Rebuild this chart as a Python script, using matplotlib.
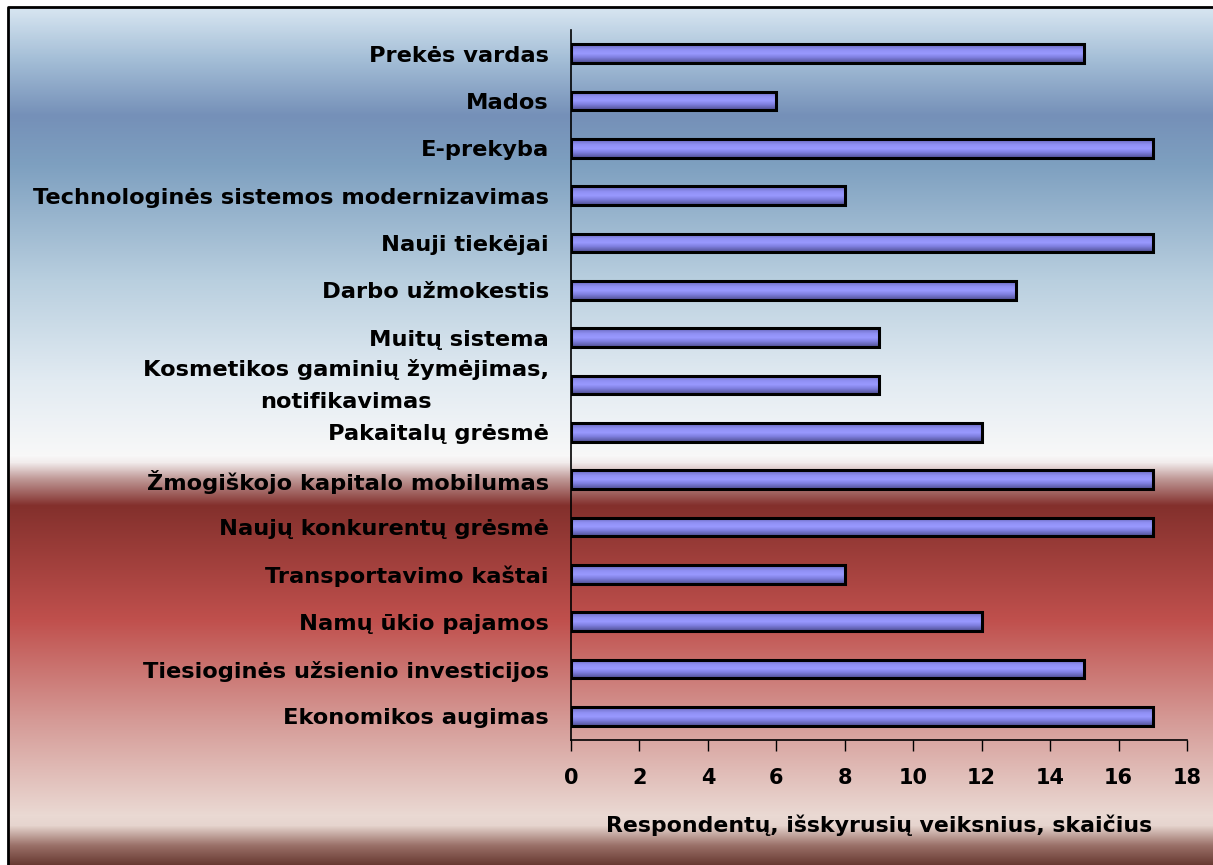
import numpy as np
import matplotlib
matplotlib.use("Agg")
import matplotlib.pyplot as plt
from matplotlib.colors import LinearSegmentedColormap, to_rgb
from matplotlib.patches import Rectangle

# data, top to bottom as shown
labels = [
    "Prekės vardas",
    "Mados",
    "E-prekyba",
    "Technologinės sistemos modernizavimas",
    "Nauji tiekėjai",
    "Darbo užmokestis",
    "Muitų sistema",
    "Kosmetikos gaminių žymėjimas,\nnotifikavimas",
    "Pakaitalų grėsmė",
    "Žmogiškojo kapitalo mobilumas",
    "Naujų konkurentų grėsmė",
    "Transportavimo kaštai",
    "Namų ūkio pajamos",
    "Tiesioginės užsienio investicijos",
    "Ekonomikos augimas",
]
values = [15, 6, 17, 8, 17, 13, 9, 9, 12, 17, 17, 8, 12, 15, 17]
xticks = [0, 2, 4, 6, 8, 10, 12, 14, 16, 18]
xlabel = "Respondentų, išskyrusių veiksnius, skaičius"

W, H = 1213, 865
plt.rcParams["font.family"] = ["DejaVu Sans"]
plt.rcParams["font.weight"] = "bold"

fig = plt.figure(figsize=(W / 100, H / 100), dpi=100)

# background gradient (pixel y from top, colour)
bg_stops = [
    (6, "#d9e7f2"), (60, "#a3bdd6"), (115, "#7590b8"), (165, "#7ea0c0"),
    (280, "#b9cfdf"), (380, "#e2ebf2"), (455, "#f8f8f8"), (462, "#f2ecec"),
    (478, "#c09a98"), (505, "#83302c"), (620, "#c0504d"), (720, "#d59a96"),
    (815, "#ead9d3"), (825, "#e6d4ce"), (845, "#9a7068"), (865, "#663830"),
]
ys = np.arange(0, H)
cols = np.array([to_rgb(c) for _, c in bg_stops])
pos = np.array([p for p, _ in bg_stops], dtype=float)
img = np.stack([np.interp(ys, pos, cols[:, k]) for k in range(3)], axis=1)
img = np.repeat(img[:, None, :], 2, axis=1)

bg = fig.add_axes([0, 0, 1, 1])
bg.imshow(img, extent=[0, W, H, 0], aspect="auto", zorder=0)
bg.set_xlim(0, W)
bg.set_ylim(H, 0)
bg.add_patch(Rectangle((0, 0), W, 6, color="white", zorder=1))
bg.add_patch(Rectangle((0, 0), 7, H, color="white", zorder=1))
bg.plot([8, 8, W], [H, 7, 7], color="black", lw=2, zorder=2)
bg.axis("off")

# main axes
left, right, top, bottom = 571, 1187, 30, 740
ax = fig.add_axes([left / W, 1 - bottom / H, (right - left) / W, (bottom - top) / H])
ax.patch.set_alpha(0)

y = np.arange(len(labels))[::-1]
bars = ax.barh(y, values, height=0.4, color="#9999ff", linewidth=0, zorder=2)

bar_cmap = LinearSegmentedColormap.from_list(
    "bar", [(0, "#505094"), (0.3, "#8080e0"), (0.5, "#9999ff"), (0.7, "#9090f4"), (1, "#6a6ac0")])
grad = np.linspace(0, 1, 64)[:, None]
for b in bars:
    x0, y0 = b.get_x(), b.get_y()
    im = ax.imshow(grad, cmap=bar_cmap, aspect="auto", origin="lower",
                   extent=[x0, x0 + b.get_width(), y0, y0 + b.get_height()], zorder=3)
    im.set_clip_path(b)
ax.barh(y, values, height=0.4, fill=False, edgecolor="black", linewidth=2.2, zorder=4)

ax.set_xlim(0, 18)
ax.set_ylim(-0.5, len(labels) - 0.5)
ax.set_xticks(xticks)
ax.set_xticklabels([str(t) for t in xticks], fontsize=15, fontweight="bold")
ax.tick_params(axis="x", direction="out", length=8, width=1, pad=12)
ax.set_yticks(y)
ax.set_yticklabels(labels, fontsize=16.2, fontweight="bold", linespacing=1.75,
                   multialignment="center")
for t in ax.get_yticklabels():
    if "\n" in t.get_text():
        t.set_verticalalignment("center")
ax.tick_params(axis="y", length=0, pad=16)
for s in ["top", "right"]:
    ax.spines[s].set_visible(False)
ax.spines["left"].set_linewidth(1.2)
ax.spines["bottom"].set_linewidth(1.2)
ax.set_xlabel(xlabel, fontsize=15.8, fontweight="bold", labelpad=19)

fig.savefig("out.png", dpi=100)
